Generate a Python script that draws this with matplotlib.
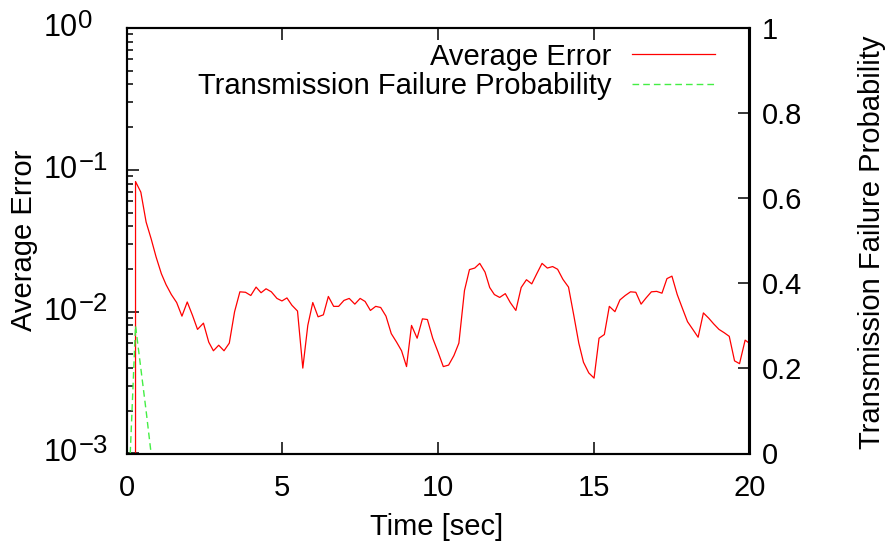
import matplotlib
matplotlib.use('Agg')
import matplotlib.pyplot as plt
from matplotlib.ticker import FixedLocator, FixedFormatter, LogLocator, NullFormatter, NullLocator
from matplotlib.transforms import blended_transform_factory

plt.rcParams['font.family'] = ['Liberation Sans', 'DejaVu Sans']

# ---- data ----
time_s = [0.12, 0.29, 0.46, 0.63, 0.79, 0.95, 1.12, 1.27, 1.44, 1.61, 1.78, 1.95, 2.12,
          2.28, 2.47, 2.64, 2.79, 2.96, 3.13, 3.30, 3.47, 3.64, 3.82, 3.99, 4.16, 4.32,
          4.48, 4.65, 4.83, 4.99, 5.15, 5.31, 5.49, 5.66, 5.82, 5.98, 6.15, 6.32, 6.48,
          6.65, 6.81, 6.98, 7.15, 7.33, 7.50, 7.66, 7.83, 8.00, 8.16, 8.33, 8.50, 8.67,
          8.83, 8.99, 9.15, 9.33, 9.50, 9.66, 9.83, 10.00, 10.17, 10.34, 10.51, 10.67,
          10.85, 11.01, 11.18, 11.34, 11.51, 11.66, 11.81, 11.98, 12.16, 12.32, 12.50,
          12.67, 12.84, 13.01, 13.17, 13.34, 13.51, 13.68, 13.84, 14.01, 14.19, 14.36,
          14.52, 14.67, 14.84, 15.01, 15.17, 15.34, 15.50, 15.68, 15.84, 16.01, 16.18,
          16.35, 16.52, 16.68, 16.85, 17.02, 17.19, 17.35, 17.51, 17.68, 17.85, 18.01,
          18.18, 18.35, 18.52, 18.69, 18.85, 19.02, 19.19, 19.35, 19.52, 19.68, 19.86,
          19.99]
avg_error = [0.0, 0.0827, 0.0696, 0.0428, 0.0327, 0.0243, 0.0185, 0.0155, 0.0132, 0.0116,
             0.0093, 0.0117, 0.0094, 0.0075, 0.0083, 0.0061, 0.0053, 0.0058, 0.0053, 0.0060,
             0.0100, 0.0138, 0.0137, 0.0130, 0.0149, 0.0136, 0.0145, 0.0138, 0.0124, 0.0119,
             0.0125, 0.0111, 0.0101, 0.0040, 0.0080, 0.0116, 0.0092, 0.0095, 0.0128, 0.0109,
             0.0109, 0.0120, 0.0124, 0.0113, 0.0124, 0.0118, 0.0102, 0.0109, 0.0107, 0.0093,
             0.0070, 0.0061, 0.0053, 0.0041, 0.0080, 0.0065, 0.0089, 0.0088, 0.0065, 0.0052,
             0.0041, 0.0042, 0.0049, 0.0060, 0.0141, 0.0198, 0.0203, 0.0219, 0.0190, 0.0148,
             0.0132, 0.0126, 0.0134, 0.0116, 0.0102, 0.0148, 0.0168, 0.0157, 0.0185, 0.0219,
             0.0203, 0.0208, 0.0199, 0.0169, 0.0149, 0.0094, 0.0060, 0.0044, 0.0037, 0.0034,
             0.0065, 0.0069, 0.0109, 0.0100, 0.0121, 0.0130, 0.0138, 0.0137, 0.0113, 0.0125,
             0.0138, 0.0139, 0.0135, 0.0171, 0.0178, 0.0132, 0.0105, 0.0085, 0.0075, 0.0066,
             0.0098, 0.0090, 0.0082, 0.0075, 0.0071, 0.0067, 0.0045, 0.0043, 0.0063, 0.0060]
fail_time = [0.12, 0.29, 0.46, 0.63, 0.79]
fail_prob = [0.0, 0.30, 0.20, 0.10, 0.0]

x_ticks = [0, 5, 10, 15, 20]
x_labels = ['0', '5', '10', '15', '20']
y1_ticks = [1e-3, 1e-2, 1e-1, 1.0]
y1_base = ['10', '10', '10', '10']
y1_exps = ['\u22123', '\u22122', '\u22121', '0']
y2_ticks = [0, 0.2, 0.4, 0.6, 0.8, 1.0]
y2_labels = ['0', '0.2', '0.4', '0.6', '0.8', '1']

FS = 21

fig = plt.figure(figsize=(8.89, 5.5), dpi=100)
ax = fig.add_axes([126.5 / 889, 1 - 453.5 / 550, 623 / 889, 425.5 / 550])
ax2 = ax.twinx()

l1, = ax.plot(time_s, avg_error, color='#ff0000', lw=0.9, label='Average Error')
ax.set_yscale('log')
ax.set_ylim(1e-3, 1)
ax.set_xlim(0, 20)

l2, = ax2.plot(fail_time, fail_prob, color='#44ee44', lw=1.0, dashes=(4.8, 2.9),
               label='Transmission Failure Probability')
ax2.set_ylim(0, 1)

ax.xaxis.set_major_locator(FixedLocator(x_ticks))
ax.xaxis.set_major_formatter(FixedFormatter(x_labels))
ax.xaxis.set_minor_locator(NullLocator())
ax.yaxis.set_major_locator(FixedLocator(y1_ticks))
ax.yaxis.set_major_formatter(NullFormatter())
ax.yaxis.set_minor_locator(LogLocator(base=10, subs=[2, 3, 4, 5, 6, 7, 8, 9], numticks=20))
ax.yaxis.set_minor_formatter(NullFormatter())
ax2.yaxis.set_major_locator(FixedLocator(y2_ticks))
ax2.yaxis.set_major_formatter(FixedFormatter(y2_labels))
ax2.yaxis.set_minor_locator(NullLocator())

ax.tick_params(axis='x', which='major', direction='in', top=True, bottom=True,
               length=8.6, width=1.1, labelsize=FS, pad=15)
ax.tick_params(axis='y', which='major', direction='in', left=True, right=False,
               length=8.6, width=1.1, labelsize=FS, pad=9)
ax.tick_params(axis='y', which='minor', direction='in', left=True, right=False,
               length=4.3, width=1.1)
ax2.tick_params(axis='y', which='major', direction='in', right=True, left=False,
                length=8.6, width=1.1, labelsize=FS, pad=9)

# gnuplot-style "10^n" labels on the log axis
trans = blended_transform_factory(ax.transAxes, ax.transData)
for v, b, e in zip(y1_ticks, y1_base, y1_exps):
    tb = ax.text(-0.133, v, b, transform=trans, ha='left', va='center',
                 fontsize=22, clip_on=False)
    ax.annotate(e, xy=(1, 1), xycoords=tb, xytext=(0.5, 3), textcoords='offset points',
                ha='left', va='top', fontsize=18.5, annotation_clip=False)

for a in (ax, ax2):
    for s in a.spines.values():
        s.set_linewidth(1.5)

ax.set_ylabel('Average Error', fontsize=FS, va='center', ha='center')
ax.yaxis.set_label_coords(-0.164, 0.502)
ax2.set_ylabel('Transmission Failure Probability', fontsize=FS, va='center', ha='center', rotation=90)
ax2.yaxis.set_label_coords(1.1966, 0.497)
ax.set_xlabel('Time [sec]', fontsize=FS, va='center', ha='center')
ax.xaxis.set_label_coords(0.4984, -0.172)

ax2.legend([l1, l2], [l1.get_label(), l2.get_label()], loc='upper right',
           bbox_to_anchor=(0.9446, 0.9657), borderaxespad=0, borderpad=0,
           frameon=False, markerfirst=False, handlelength=2.86, handletextpad=0.69,
           labelspacing=0.05, fontsize=FS)

fig.savefig('out.png', dpi=100)
